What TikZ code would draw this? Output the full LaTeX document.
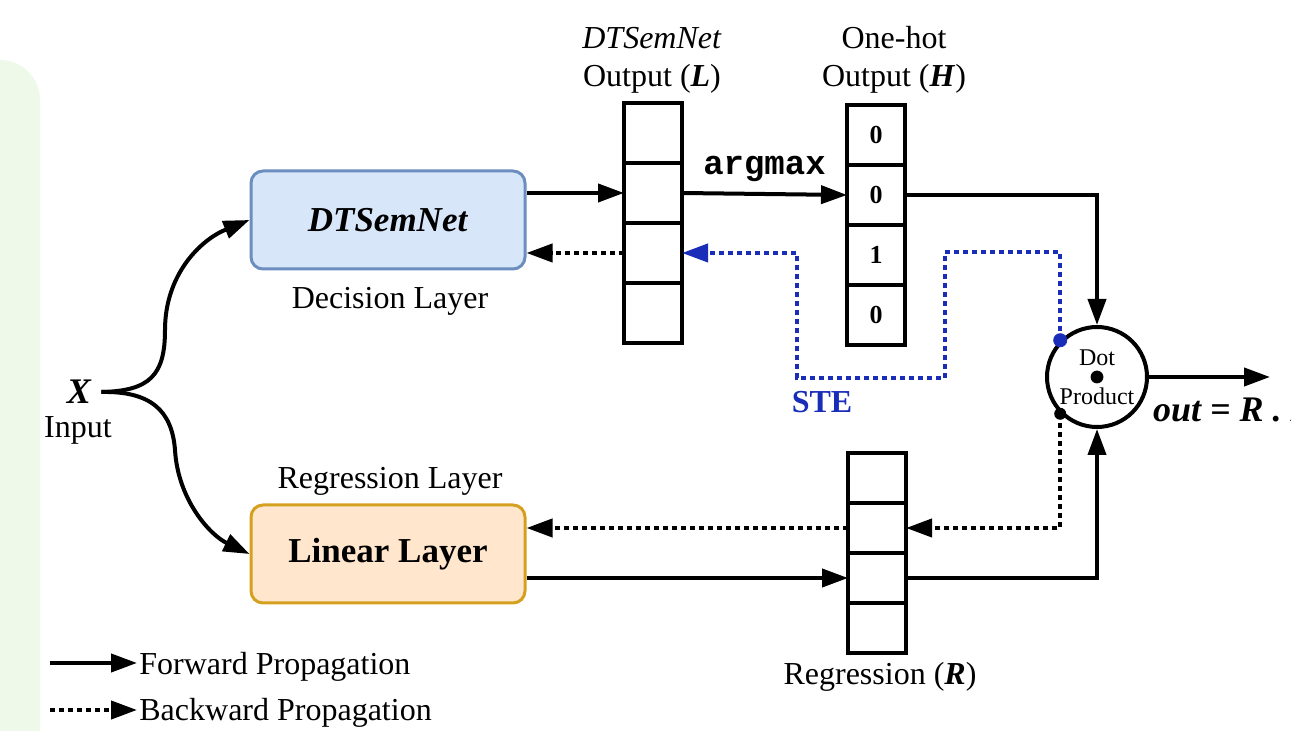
\documentclass[tikz,border=0pt]{standalone}
\usepackage{fontspec}
\setmainfont{Liberation Serif}
\setmonofont{Liberation Mono}
\usepackage{tikz}
\usetikzlibrary{arrows.meta,positioning,calc}
\definecolor{semfill}{HTML}{D8E6FA}
\definecolor{semline}{HTML}{6C8EBF}
\definecolor{linfill}{HTML}{FFE6CC}
\definecolor{linline}{HTML}{D4A01E}
\definecolor{inputbg}{HTML}{EEF9EA}
\definecolor{stecolor}{RGB}{25,45,185}

\begin{document}
\begin{tikzpicture}[
  x=0.5pt, y=-0.5pt,
  lbl/.style={font=\fontsize{16}{19}\selectfont, align=center},
  layerbox/.style={rectangle, draw, line width=1.5pt, rounded corners=6pt, minimum width=137pt, minimum height=49pt, font=\fontsize{17.5}{20}\selectfont\bfseries},
  cell/.style={rectangle, draw, line width=2.2pt, minimum width=29pt, minimum height=30pt, outer sep=0pt, inner sep=0pt, font=\fontsize{13}{15}\selectfont\bfseries},
  rcell/.style={cell, minimum height=25pt},
  arrow/.style={-{Triangle[length=13pt,width=9pt]}, line width=2pt},
  backarrow/.style={arrow, dash pattern=on 2.5pt off 2pt},
]
  \useasboundingbox (0,0) rectangle (1291,731);

  % Input panel
  \fill[inputbg, rounded corners=20pt] (-80,60) rectangle (40,820);
  \node[font=\fontsize{18}{20}\selectfont\bfseries\itshape, inner xsep=5pt, inner ysep=0pt] (xin) at (79,392) {X};
  \node[lbl, inner sep=1pt] (inlbl) at (78,430) {Input};

  % Decision Layer
  \node[layerbox, fill=semfill, draw=semline] (dts) at (388,220) {\textit{DTSemNet}};
  \node[lbl] (declbl) at (390,301) {Decision Layer};

  % Regression Layer
  \node[layerbox, fill=linfill, draw=linline] (lin) at (388,554) {Linear Layer};
  \node[lbl] (reglbl) at (390,481) {Regression Layer};

  % DTSemNet output L
  \node[cell] (lA) at (653,133) {};
  \node[cell, below=0pt of lA] (lB) {};
  \node[cell, below=0pt of lB] (lC) {};
  \node[cell, below=0pt of lC] (lD) {};
  \node[lbl] (ltitle) at (652,60) {\textit{DTSemNet}\\Output (\textbf{\textit{L}})};

  % One-hot output H
  \node[cell] (hA) at (876,135) {0};
  \node[cell, below=0pt of hA] (hB) {0};
  \node[cell, below=0pt of hB] (hC) {1};
  \node[cell, below=0pt of hC] (hD) {0};
  \node[lbl] (htitle) at (894,60) {One-hot\\Output (\textbf{\textit{H}})};

  % Regression output R
  \node[rcell] (rA) at (877,478) {};
  \node[rcell, below=0pt of rA] (rB) {};
  \node[rcell, below=0pt of rB] (rC) {};
  \node[rcell, below=0pt of rC] (rD) {};
  \node[lbl] (rtitle) at (880,677) {Regression (\textbf{\textit{R}})};

  % Dot product
  \node[circle, draw, line width=2pt, minimum size=50pt, inner sep=0pt] (dot) at (1097,377) {};
  \node[font=\fontsize{12}{14}\selectfont] (dottxt) at (1097,358) {Dot};
  \node[font=\fontsize{12}{14}\selectfont] (prodtxt) at (1097,396) {Product};
  \fill (dot.center) circle[radius=3.2pt];
  \coordinate (outend) at (1270,377);
  \node[anchor=base west, font=\fontsize{18}{20}\selectfont\bfseries\itshape] (outlbl) at (1146,422) {out = R . H};

  % Forward
  \draw[arrow] (xin.east) .. controls (150,391) and (165,375) .. (165,330) .. controls (165,275) and (200,240) .. (dts.west);
  \draw[arrow] (xin.east) .. controls (150,391) and (172,410) .. (175,450) .. controls (178,500) and (210,535) .. (lin.west);
  \draw[arrow] (dts.east |- lB.west) -- (lB.west);
  \draw[arrow] (lB.east) -- node[above=2pt, font=\fontsize{17}{20}\selectfont\ttfamily\bfseries] (argm) {argmax} (hB.west);
  \draw[arrow] (hB.east) -| (dot.north);
  \draw[arrow] (lin.east |- rC.west) -- (rC.west);
  \draw[arrow] (rC.east) -| (dot.south);
  \draw[arrow] (dot.east) -- (outend);

  % Backward
  \draw[backarrow] (lC.west) -- (dts.east |- lC.west);
  \draw[backarrow] (dot.225) |- (rB.east);
  \draw[backarrow] (rB.west) -- (lin.east |- rB.west);
  \draw[backarrow, stecolor] (dot.135) |- (945,252) |- (797,378) |- (lC.east);
  \node[font=\fontsize{16}{19}\selectfont\bfseries, text=stecolor] (ste) at (822,402) {STE};
  \fill[stecolor] (dot.135) circle[radius=3.5pt];
  \fill (dot.225) circle[radius=3pt];

  % Legend
  \node[lbl, anchor=base west, inner sep=1pt] (fwlbl) at (137,675) {Forward Propagation};
  \node[lbl, anchor=base west, inner sep=1pt] (bwlbl) at (137,721) {Backward Propagation};
  \coordinate (fwA) at (50,663);
  \coordinate (bwA) at (50,710);
  \draw[arrow] (fwA) -- (fwlbl.west |- fwA);
  \draw[backarrow] (bwA) -- (bwlbl.west |- bwA);
\end{tikzpicture}
\end{document}
